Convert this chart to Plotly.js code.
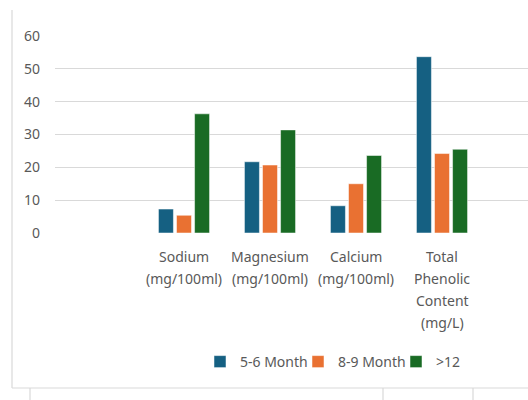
<!DOCTYPE html>
<html>
<head>
<meta charset="utf-8">
<script src="https://cdn.plot.ly/plotly-3.0.1.min.js"></script>
<style>
  html, body { margin: 0; padding: 0; background: #ffffff; }
  #chart { width: 528px; height: 400px; }
</style>
</head>
<body>
<div id="chart"></div>
<script>
// Mineral and phenolic content by age group
const categories = [
  "Sodium<br>(mg/100ml)",
  "Magnesium<br>(mg/100ml)",
  "Calcium<br>(mg/100ml)",
  "Total<br>Phenolic<br>Content<br>(mg/L)"
];
const seriesNames = ["5-6 Month", "8-9 Month", ">12"];
const month5to6 = [7.3, 21.7, 8.3, 53.7];
const month8to9 = [5.4, 20.7, 15.0, 24.2];
const month12plus = [36.3, 31.4, 23.6, 25.5];
const colors = ["#156082", "#E97132", "#196B24"];
const yTicks = [0, 10, 20, 30, 40, 50, 60];

// The category slots start one place in, leaving the first slot empty
const slots = categories.map((_, i) => i + 1);
const seriesValues = [month5to6, month8to9, month12plus];

const traces = seriesValues.map((vals, k) => ({
  type: "bar",
  name: seriesNames[k],
  x: slots,
  y: vals,
  marker: { color: colors[k], line: { color: "#ffffff", width: 0.5 } },
  hoverinfo: "y+name"
}));

// Plot area spans x 55..528 and y 36..233 in pixels
const L = 55, R = 528, T = 36, B = 233;
const px = v => (v - L) / (R - L);
const py = v => (B - v) / (B - T);
const frame = { color: "#d9d9d9", width: 1.2 };
const line = (x0, y0, x1, y1) => ({
  type: "line", xref: "paper", yref: "paper",
  x0: px(x0), y0: py(y0), x1: px(x1), y1: py(y1), line: frame, layer: "below"
});

// Category labels, one text line each, with a wider line pitch than tick labels allow
const labelTop = 256, linePitch = 22;
const labelAnnotations = [];
categories.forEach((label, i) => {
  label.split("<br>").forEach((part, j) => {
    labelAnnotations.push({
      xref: "x", yref: "paper",
      x: slots[i], y: py(labelTop + j * linePitch),
      xanchor: "center", yanchor: "middle",
      text: part, showarrow: false,
      font: { size: 14, color: "#595959" }
    });
  });
});

const layout = {
  width: 528, height: 400,
  margin: { l: L, r: 528 - R, t: T, b: 400 - B, pad: 0 },
  paper_bgcolor: "#ffffff",
  plot_bgcolor: "#ffffff",
  font: { family: "'Noto Sans', 'Open Sans', sans-serif", size: 14, color: "#595959" },
  barmode: "group",
  bargap: 0.37,
  bargroupgap: 0.17,
  showlegend: true,
  legend: {
    orientation: "h",
    x: px(200), xanchor: "left",
    y: py(362), yanchor: "middle",
    entrywidth: 53,
    font: { size: 14, color: "#595959" },
    itemclick: false, itemdoubleclick: false,
    traceorder: "normal"
  },
  xaxis: {
    range: [-0.5, 5.0],
    tickvals: slots,
    showticklabels: false,
    showgrid: false, zeroline: false, showline: false,
    ticks: "",
    fixedrange: true
  },
  yaxis: {
    range: [0, 60],
    tickvals: yTicks,
    showgrid: true, gridcolor: "#d9d9d9", gridwidth: 1.2,
    zeroline: false, showline: false,
    ticks: "",
    ticklabelstandoff: 14,
    tickfont: { size: 14, color: "#595959" },
    fixedrange: true
  },
  annotations: labelAnnotations,
  shapes: [
    line(12, 10, 12, 388),
    line(12, 388, 528, 388),
    line(30, 388, 30, 400),
    line(383, 388, 383, 400),
    line(473, 388, 473, 400)
  ]
};

Plotly.newPlot("chart", traces, layout, { displayModeBar: false, staticPlot: true });
</script>
</body>
</html>
